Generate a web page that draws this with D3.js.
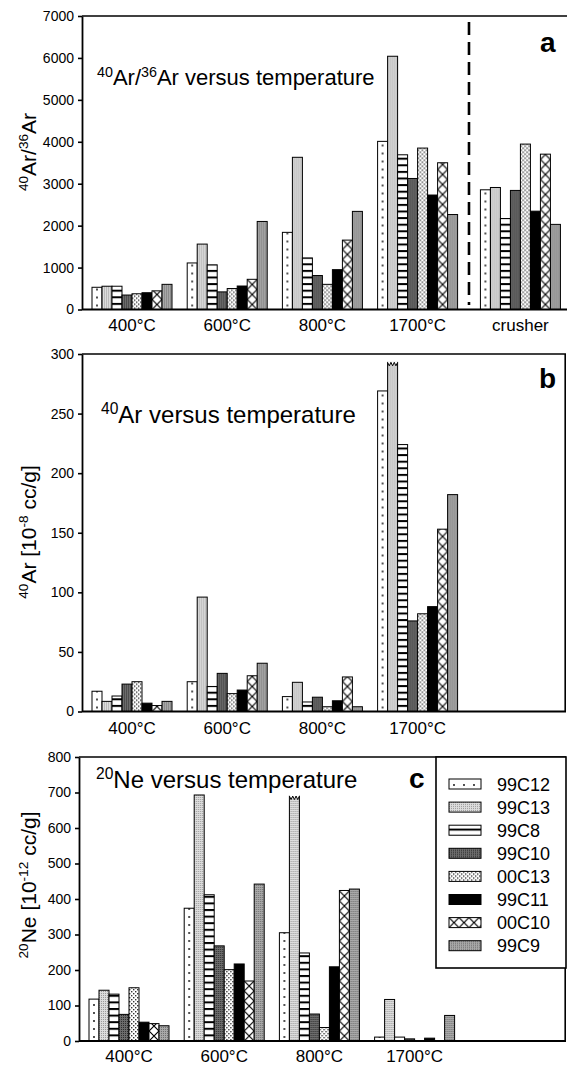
<!DOCTYPE html>
<html>
<head>
<meta charset="utf-8">
<script src="https://cdn.jsdelivr.net/npm/d3@7"></script>
<style>
  body { margin: 0; background: #fff; }
  svg { display: block; }
  text { font-family: "Liberation Sans", Arial, Helvetica, sans-serif; fill: #000; }
</style>
</head>
<body>
<svg id="chart" width="567" height="1066"></svg>
<script>
// samples, in legend order
var samples = ["99C12", "99C13", "99C8", "99C10", "00C13", "99C11", "00C10", "99C9"];
var steps = ["400°C", "600°C", "800°C", "1700°C"];
var stepsA = ["400°C", "600°C", "800°C", "1700°C", "crusher"];

// 40Ar/36Ar, one row per step (samples in the order above)
var ratioVals = [
  [530, 555, 555, 345, 375, 400, 445, 600],
  [1110, 1560, 1065, 420, 500, 560, 720, 2100],
  [1840, 3630, 1230, 810, 600, 950, 1655, 2340],
  [4010, 6040, 3690, 3125, 3850, 2730, 3500, 2265],
  [2855, 2910, 2170, 2840, 3945, 2345, 3705, 2030]
];
// 40Ar [10^-8 cc/g]
var ar40Vals = [
  [17, 8.5, 13, 23, 25, 7, 5, 8.5],
  [25, 96, 21, 32, 15, 18, 30, 40.5],
  [12.5, 24.5, 8, 12, 4, 9, 29, 4],
  [269, 293, 224, 76, 82, 88, 153, 182]
];
// 20Ne [10^-12 cc/g]
var ne20Vals = [
  [118, 143, 132, 75, 150, 53, 49, 43],
  [374, 693, 412, 268, 201, 217, 169, 442],
  [305, 690, 248, 76, 38, 209, 424, 428],
  [11, 117, 11, 6, 1, 8, 1, 72]
];
// off-scale bars drawn with a broken top: [step, sample]
var ar40Broken = [[3, 1]];
var ne20Broken = [[2, 1]];

var ratioTicks = [0, 1000, 2000, 3000, 4000, 5000, 6000, 7000];
var ar40Ticks = [0, 50, 100, 150, 200, 250, 300];
var ne20Ticks = [0, 100, 200, 300, 400, 500, 600, 700, 800];

var svg = d3.select("#chart");
var defs = svg.append("defs");

// fill patterns, one per sample
function pattern(id, w, h, bg) {
  var p = defs.append("pattern").attr("id", id)
    .attr("patternUnits", "userSpaceOnUse").attr("width", w).attr("height", h);
  p.append("rect").attr("width", w).attr("height", h).attr("fill", bg);
  return p;
}
var p;
p = pattern("pat0", 10, 8, "#fff");
p.append("circle").attr("cx", 5).attr("cy", 4).attr("r", 0.9).attr("fill", "#000");
p = pattern("pat1", 2, 2, "#dcdcdc");
p.append("rect").attr("width", 1).attr("height", 1).attr("fill", "#9a9a9a");
p = pattern("pat2", 10, 6.6, "#fff");
p.append("rect").attr("y", 0).attr("width", 10).attr("height", 2).attr("fill", "#000");
p = pattern("pat3", 2, 2, "#6c6c6c");
p.append("rect").attr("width", 1).attr("height", 1).attr("fill", "#2e2e2e");
p = pattern("pat4", 4, 4, "#fff");
p.append("rect").attr("width", 1.4).attr("height", 1.4).attr("fill", "#333");
p.append("rect").attr("x", 2).attr("y", 2).attr("width", 1.4).attr("height", 1.4).attr("fill", "#333");
p = pattern("pat5", 4, 4, "#000");
p = pattern("pat6", 10, 10, "#fff");
p.append("path").attr("d", "M0,0L10,10M10,0L0,10").attr("stroke", "#000").attr("stroke-width", 1.2);
p = pattern("pat7", 2, 2, "#a8a8a8");
p.append("rect").attr("width", 1).attr("height", 1).attr("fill", "#707070");

function fillOf(i) { return "url(#pat" + i + ")"; }

// text with superscripts: parts = [[text, isSup], ...]
function rich(sel, parts, fs) {
  var up = false;
  parts.forEach(function(pt) {
    var t = sel.append("tspan").text(pt[0]);
    if (pt[1] && !up) { t.attr("font-size", fs * 0.65).attr("dy", -fs * 0.38); up = true; }
    else if (pt[1]) { t.attr("font-size", fs * 0.65); }
    else if (up) { t.attr("font-size", fs).attr("dy", fs * 0.38); up = false; }
    else { t.attr("font-size", fs); }
  });
}

var inner = d3.scaleBand().domain(samples).range([0, 80]).padding(0);

var panels = [
  { letter: "a", top: 16, bottom: 309.5, left: 82, right: 567, frameRight: false,
    x0: 92, max: 7000, ticks: ratioTicks, vals: ratioVals, cats: stepsA, broken: [],
    title: [["40", 1], ["Ar/", 0], ["36", 1], ["Ar versus temperature", 0]], titleX: 97, titleY: 85, titleSize: 22,
    ylab: [["40", 1], ["Ar/", 0], ["36", 1], ["Ar", 0]], ylabY: 152,
    letterX: 540, letterY: 52, labY: 331, dashed: true },
  { letter: "b", top: 354, bottom: 711.5, left: 82, right: 566, frameRight: true,
    x0: 92, max: 300, ticks: ar40Ticks, vals: ar40Vals, cats: steps, broken: ar40Broken,
    title: [["40", 1], ["Ar versus temperature", 0]], titleX: 101, titleY: 423, titleSize: 24,
    ylab: [["40", 1], ["Ar [10", 0], ["-8", 1], [" cc/g]", 0]], ylabY: 532,
    letterX: 539, letterY: 388, labY: 734 },
  { letter: "c", top: 757, bottom: 1041, left: 79, right: 566, frameRight: true,
    x0: 89, max: 800, ticks: ne20Ticks, vals: ne20Vals, cats: steps, broken: ne20Broken,
    title: [["20", 1], ["Ne versus temperature", 0]], titleX: 96, titleY: 788, titleSize: 24,
    ylab: [["20", 1], ["Ne [10", 0], ["-12", 1], [" cc/g]", 0]], ylabY: 885,
    letterX: 409, letterY: 788, labY: 1062, legend: true }
];

panels.forEach(function(P) {
  var g = svg.append("g");
  var y = d3.scaleLinear().domain([0, P.max]).range([P.bottom, P.top]);
  // slot positions of the step groups; crusher sits a little further right
  var outer = d3.scaleLinear().domain([0, 1]).range([P.x0, P.x0 + 95.2]);
  var slot = function(i) { return i < 4 ? i : 4.08; };

  // bars
  P.vals.forEach(function(row, si) {
    var gx = outer(slot(si));
    g.append("g").selectAll("rect").data(row).join("rect")
      .attr("transform", function(d, k) { return "translate(" + (gx + inner(samples[k])) + "," + P.bottom + ")"; })
      .attr("x", 0)
      .attr("y", function(d) { return y(d) - P.bottom; })
      .attr("width", inner.bandwidth())
      .attr("height", function(d) { return P.bottom - y(d); })
      .attr("fill", function(d, k) { return fillOf(k); })
      .attr("stroke", "#000").attr("stroke-width", 1);
  });

  // broken tops
  P.broken.forEach(function(b) {
    var bx = outer(slot(b[0])) + inner(samples[b[1]]);
    var ty = y(P.vals[b[0]][b[1]]);
    var w = inner.bandwidth(), n = 3, pts = [];
    for (var j = 0; j <= n * 2; j++) pts.push([bx + w * j / (n * 2), ty + (j % 2 === 0 ? 0 : 3.5)]);
    g.append("path").attr("d", "M" + bx + "," + (ty - 1) + "L" + pts.map(function(q) { return q.join(","); }).join("L") + "L" + (bx + w) + "," + (ty - 1) + "Z")
      .attr("fill", "#fff");
    g.append("path").attr("d", d3.line()(pts)).attr("fill", "none").attr("stroke", "#000").attr("stroke-width", 1);
  });

  // frame
  g.append("line").attr("x1", P.left).attr("x2", P.right).attr("y1", P.top).attr("y2", P.top)
    .attr("stroke", "#000").attr("stroke-width", 1.6);
  g.append("line").attr("x1", P.left).attr("x2", P.right).attr("y1", P.bottom).attr("y2", P.bottom)
    .attr("stroke", "#000").attr("stroke-width", 2);
  if (P.frameRight) {
    g.append("line").attr("x1", P.right - 0.8).attr("x2", P.right - 0.8).attr("y1", P.top).attr("y2", P.bottom)
      .attr("stroke", "#000").attr("stroke-width", 1.6);
  }

  // y axis
  var ax = g.append("g").attr("transform", "translate(" + P.left + ",0)")
    .call(d3.axisLeft(y).tickValues(P.ticks).tickSize(4).tickSizeOuter(0).tickPadding(4).tickFormat(d3.format("d")));
  ax.select(".domain").attr("stroke-width", 1.8);
  ax.selectAll(".tick line").attr("stroke-width", 1.6);
  ax.selectAll("text").attr("font-size", 14).attr("font-family", "Liberation Sans, Arial, sans-serif");

  // category labels
  P.cats.forEach(function(c, si) {
    g.append("text").attr("x", outer(slot(si)) + 40).attr("y", P.labY)
      .attr("text-anchor", "middle").attr("font-size", 17).text(c);
  });

  // title, panel letter, y label
  rich(g.append("text").attr("x", P.titleX).attr("y", P.titleY), P.title, P.titleSize);
  g.append("text").attr("x", P.letterX).attr("y", P.letterY).attr("font-size", 28)
    .attr("font-weight", "bold").text(P.letter);
  rich(g.append("text").attr("text-anchor", "middle")
    .attr("transform", "translate(36," + P.ylabY + ") rotate(-90)"), P.ylab, 21);

  if (P.dashed) {
    g.append("line").attr("x1", outer(3.96)).attr("x2", outer(3.96)).attr("y1", 22).attr("y2", 305)
      .attr("stroke", "#000").attr("stroke-width", 2.6).attr("stroke-dasharray", "13,7");
  }

  if (P.legend) {
    var lg = g.append("g");
    lg.append("rect").attr("x", 436).attr("y", P.top).attr("width", 130).attr("height", 211)
      .attr("fill", "#fff").attr("stroke", "#000").attr("stroke-width", 1.6);
    samples.forEach(function(s, k) {
      var cy = 784 + k * 23.1;
      lg.append("rect").attr("transform", "translate(449," + (cy + 5) + ")")
        .attr("y", -10).attr("width", 32).attr("height", 10)
        .attr("fill", fillOf(k)).attr("stroke", "#000").attr("stroke-width", 1);
      lg.append("text").attr("x", 497).attr("y", cy + 6.5).attr("font-size", 18).text(s);
    });
  }
});
</script>
</body>
</html>
